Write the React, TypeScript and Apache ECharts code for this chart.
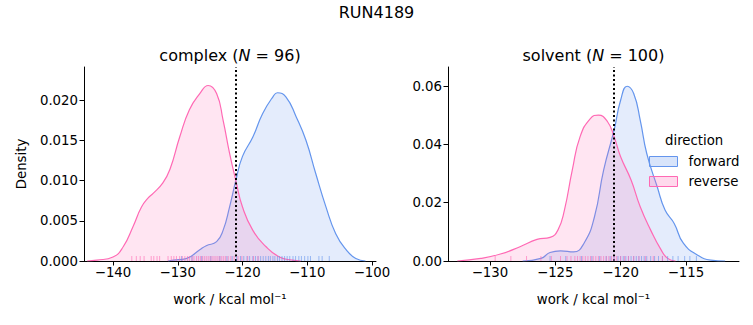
import React, { useEffect, useRef } from "react";
import * as echarts from "echarts";

const FONT = "DejaVu Sans";
const FWD = "#6495ED";
const REV = "#FF69B4";

const suptitle = "RUN4189";
const directions = ["forward", "reverse"];

const complexForward: [number, number][] = [
  [-131.5, 0], [-130.7, 0.0001], [-128.7, 0.0003], [-126.6, 0.0014], [-125.6, 0.0019],
  [-124.0, 0.0024], [-123.0, 0.0038], [-122.0, 0.0067], [-121.0, 0.0101], [-120.0, 0.0130],
  [-118.4, 0.0154], [-116.9, 0.0183], [-115.3, 0.0204], [-114.6, 0.0209], [-113.3, 0.0204],
  [-111.7, 0.0179], [-110.2, 0.0150], [-108.7, 0.0109], [-107.1, 0.0067], [-105.6, 0.0034],
  [-104.0, 0.0014], [-102.5, 0.0003], [-101.0, 0],
];
const complexReverse: [number, number][] = [
  [-144.0, 0], [-142.5, 0.0001], [-140.0, 0.0005], [-138.4, 0.0018], [-136.9, 0.0043],
  [-135.6, 0.0067], [-134.6, 0.0078], [-133.8, 0.0084], [-132.3, 0.0097], [-131.2, 0.0114],
  [-129.7, 0.0154], [-128.2, 0.0188], [-126.6, 0.0208], [-125.3, 0.0218], [-124.0, 0.0208],
  [-123.0, 0.0175], [-122.0, 0.0134], [-121.0, 0.0099], [-120.0, 0.0067], [-118.4, 0.0038],
  [-116.4, 0.0018], [-114.3, 0.0005], [-112.3, 0.0001], [-111.0, 0],
];
const solventForward: [number, number][] = [
  [-127.5, 0], [-126.1, 0.0009], [-125.4, 0.0029], [-124.6, 0.0035], [-123.6, 0.0031],
  [-122.8, 0.0061], [-122.0, 0.0152], [-121.3, 0.0312], [-120.5, 0.0449], [-120.0, 0.0552],
  [-119.5, 0.0600], [-119.0, 0.0575], [-118.5, 0.0484], [-118.0, 0.0369], [-117.2, 0.0255],
  [-116.6, 0.0175], [-115.9, 0.0129], [-115.2, 0.0061], [-114.1, 0.0020], [-113.1, 0.0003],
  [-112.0, 0],
];
const solventReverse: [number, number][] = [
  [-132.5, 0], [-130.7, 0.0009], [-129.2, 0.0024], [-127.7, 0.0049], [-126.4, 0.0074],
  [-125.4, 0.0081], [-124.8, 0.0106], [-124.3, 0.0175], [-123.7, 0.0312], [-123.1, 0.0427],
  [-122.3, 0.0490], [-121.7, 0.0501], [-121.0, 0.0478], [-120.5, 0.0427], [-120.0, 0.0358],
  [-119.2, 0.0278], [-118.5, 0.0186], [-117.7, 0.0106], [-116.9, 0.0038], [-116.4, 0.0009],
  [-115.8, 0],
];

const complexForwardRug = [
  -129.4, -127.8, -126.3, -124.9, -123.5, -122.4, -121.6, -120.9, -120.3, -119.8, -119.3,
  -118.9, -118.4, -118.0, -117.6, -117.2, -116.8, -116.4, -116.0, -115.7, -115.3, -115.0,
  -114.6, -114.3, -113.9, -113.5, -113.1, -112.7, -112.2, -111.8, -111.3, -110.9, -110.4,
  -109.9, -109.5, -108.2, -107.7, -106.6,
];
const complexReverseRug = [
  -137.1, -136.4, -135.8, -135.2, -134.1, -133.7, -133.2, -132.8, -131.5, -131.0, -130.6,
  -130.2, -129.7, -129.3, -128.9, -128.5, -128.2, -127.8, -127.5, -127.1, -126.8, -126.5,
  -126.2, -125.9, -125.6, -125.3, -125.0, -124.7, -124.4, -124.1, -123.8, -123.5, -123.2,
  -122.9, -122.6, -122.2, -121.8, -121.3, -120.7, -120.1, -119.2, -118.3, -117.6,
];
const solventForwardRug = [
  -125.4, -124.2, -123.0, -122.2, -121.6, -121.1, -120.8, -120.5, -120.2, -120.0, -119.8,
  -119.6, -119.4, -119.2, -119.0, -118.8, -118.6, -118.4, -118.2, -118.0, -117.7, -117.4,
  -117.1, -116.8, -116.4, -116.0, -115.6, -115.1, -114.7, -114.2,
];
const solventReverseRug = [
  -129.6, -128.4, -127.2, -126.1, -125.3, -124.6, -124.1, -123.8, -123.5, -123.3, -123.1,
  -122.9, -122.7, -122.5, -122.3, -122.1, -121.9, -121.7, -121.5, -121.3, -121.1, -120.9,
  -120.7, -120.5, -120.3, -120.0, -119.7, -119.4, -119.0, -118.6, -118.1, -117.5, -116.8,
];

const complexThreshold = -121.1;
const solventThreshold = -120.5;

const complexXTicks = [-140, -130, -120, -110, -100];
const complexYTicks = [0, 0.005, 0.01, 0.015, 0.02];
const solventXTicks = [-130, -125, -120, -115];
const solventYTicks = [0, 0.02, 0.04, 0.06];

const minus = (v: number, d = 0) => {
  const s = d ? v.toFixed(d) : String(Math.round(v));
  return s.replace("-", "\u2212");
};

function rgba(hex: string, a: number) {
  const n = parseInt(hex.slice(1), 16);
  return `rgba(${(n >> 16) & 255},${(n >> 8) & 255},${n & 255},${a})`;
}

export default function App() {
  const ref = useRef<HTMLDivElement>(null);
  useEffect(() => {
    if (!ref.current) return;
    const chart = echarts.init(ref.current, null, { renderer: "svg" });

    const xAxisBase = (gridIndex: number, min: number, max: number, ticks: number[]) => ({
      type: "value",
      gridIndex,
      min,
      max,
      name: "work / kcal mol\u207B\u00B9",
      nameLocation: "middle",
      nameGap: 32,
      nameTextStyle: { fontFamily: FONT, fontSize: 13.3, color: "#000" },
      axisLine: { show: true, onZero: false, lineStyle: { color: "#000", width: 1 } },
      axisTick: { show: true, length: 4.5, lineStyle: { color: "#000", width: 1 }, customValues: ticks },
      axisLabel: {
        customValues: ticks,
        fontFamily: FONT, fontSize: 13.3, color: "#000", margin: 5,
        formatter: (v: number) => minus(v),
      },
      splitLine: { show: false },
    });
    const yAxisBase = (gridIndex: number, max: number, ticks: number[], dec: number, name: string) => ({
      type: "value",
      gridIndex,
      min: 0,
      max,
      name,
      nameLocation: "middle",
      nameGap: 56,
      nameTextStyle: { fontFamily: FONT, fontSize: 13.3, color: "#000" },
      axisLine: { show: true, lineStyle: { color: "#000", width: 1 } },
      axisTick: { show: true, length: 4.5, lineStyle: { color: "#000", width: 1 }, customValues: ticks },
      axisLabel: {
        customValues: ticks,
        fontFamily: FONT, fontSize: 13.3, color: "#000", margin: 6,
        formatter: (v: number) => v.toFixed(dec),
      },
      splitLine: { show: false },
    });

    const kde = (name: string, color: string, data: [number, number][], idx: number, z: number) => ({
      type: "line",
      name,
      xAxisIndex: idx,
      yAxisIndex: idx,
      data,
      smooth: 0.5,
      showSymbol: false,
      symbol: "none",
      z,
      lineStyle: { color, width: 1.2 },
      itemStyle: { color },
      areaStyle: { color: rgba(color, 0.25), origin: "start" },
    });
    const rug = (name: string, color: string, vals: number[], idx: number) => ({
      type: "scatter",
      name,
      xAxisIndex: idx,
      yAxisIndex: idx,
      data: vals.map((v) => [v, 0]),
      symbol: "rect",
      symbolSize: [1, 5],
      symbolOffset: [0, -2.5],
      itemStyle: { color: rgba(color, 0.75) },
      z: 5,
      silent: true,
    });
    const vline = (idx: number, x: number) => ({
      type: "line",
      name: "threshold" + idx,
      xAxisIndex: idx,
      yAxisIndex: idx,
      data: [],
      z: 10,
      markLine: {
        silent: true,
        symbol: ["none", "none"],
        label: { show: false },
        lineStyle: { color: "#000", type: [2, 2.5], width: 2 },
        data: [{ xAxis: x }],
      },
    });

    const titleStyle = {
      fontFamily: FONT, fontSize: 16, fontWeight: "normal", color: "#000",
      rich: { i: { fontFamily: FONT, fontSize: 16, fontStyle: "italic", color: "#000" } },
    };

    chart.setOption({
      animation: false,
      backgroundColor: "#fff",
      title: [
        { text: suptitle, left: 376.5, top: 4, textAlign: "center", padding: 0, textStyle: { fontFamily: FONT, fontSize: 16, fontWeight: "normal", color: "#000" } },
        { text: "complex ({i|N} = 96)", left: 230, top: 47, textAlign: "center", padding: 0, textStyle: titleStyle },
        { text: "solvent ({i|N} = 100)", left: 593.5, top: 47, textAlign: "center", padding: 0, textStyle: titleStyle },
      ],
      grid: [
        { left: 84, top: 67, width: 292, height: 194, containLabel: false },
        { left: 448, top: 67, width: 291, height: 194, containLabel: false },
      ],
      xAxis: [
        xAxisBase(0, -144.48, -99.38, complexXTicks),
        xAxisBase(1, -133.21, -110.94, solventXTicks),
      ],
      yAxis: [
        yAxisBase(0, 0.0241, complexYTicks, 3, "Density"),
        yAxisBase(1, 0.0666, solventYTicks, 2, ""),
      ],
      legend: {
        orient: "vertical",
        left: 649,
        top: 155,
        padding: 0,
        itemWidth: 28,
        itemHeight: 10,
        itemGap: 7,
        icon: "rect",
        textStyle: { fontFamily: FONT, fontSize: 13.3, color: "#000", padding: [0, 0, 0, 6] },
        selectedMode: false,
        data: [
          { name: directions[0], itemStyle: { color: rgba(FWD, 0.25), borderColor: FWD, borderWidth: 1 } },
          { name: directions[1], itemStyle: { color: rgba(REV, 0.25), borderColor: REV, borderWidth: 1 } },
        ],
      },
      graphic: [
        {
          type: "text",
          left: 665,
          top: 134,
          style: { text: "direction", fontFamily: FONT, fontSize: 13.3, fill: "#000" },
        },
      ],
      series: [
        kde(directions[0], FWD, complexForward, 0, 2),
        kde(directions[1], REV, complexReverse, 0, 3),
        rug("complex forward rug", FWD, complexForwardRug, 0),
        rug("complex reverse rug", REV, complexReverseRug, 0),
        vline(0, complexThreshold),
        kde(directions[0], FWD, solventForward, 1, 2),
        kde(directions[1], REV, solventReverse, 1, 3),
        rug("solvent forward rug", FWD, solventForwardRug, 1),
        rug("solvent reverse rug", REV, solventReverseRug, 1),
        vline(1, solventThreshold),
      ],
    });
    return () => chart.dispose();
  }, []);
  return (
    <div
      ref={ref}
      style={{ position: "absolute", left: 0, top: 0, width: 753, height: 325, background: "#fff" }}
    />
  );
}
